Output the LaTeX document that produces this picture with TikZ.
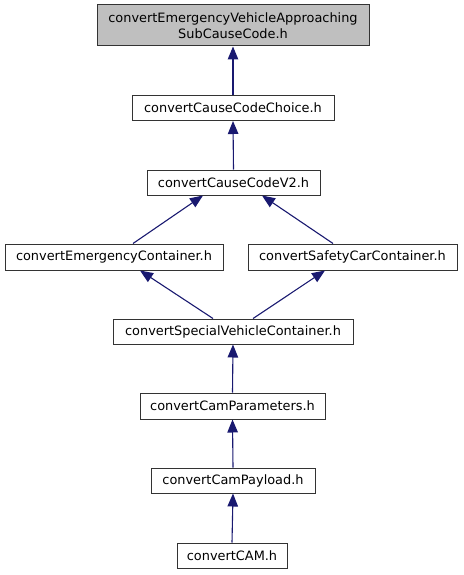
\documentclass[tikz,border=0pt]{standalone}
\usepackage{fontspec}
\setmainfont{DejaVu Sans}
\usetikzlibrary{arrows.meta}
\definecolor{edgeblue}{RGB}{25,25,112}
\definecolor{topgray}{RGB}{191,191,191}
\tikzset{
  filebox/.style={draw=black!80, line width=1pt, fill=white, inner sep=0pt, font=\fontsize{12.9}{15.5}\selectfont, align=center},
  dep/.style={draw=edgeblue, line width=1.1pt, -{Triangle[length=13pt,width=10.5pt]}, edgeblue}
}
\begin{document}
\begin{tikzpicture}[x=1pt,y=-1pt]
\useasboundingbox (0,0) rectangle (463,575);
\node[filebox, fill=topgray, minimum width=272pt, minimum height=41pt] (top) at (233,25.5) {convertEmergencyVehicleApproaching\\SubCauseCode.h};
\node[filebox, minimum width=202pt, minimum height=25pt] (choice) at (233,108) {convertCauseCodeChoice.h};
\node[filebox, minimum width=173pt, minimum height=25pt] (v2) at (233.5,182.5) {convertCauseCodeV2.h};
\node[filebox, minimum width=218pt, minimum height=26pt] (emerg) at (114,257) {convertEmergencyContainer.h};
\node[filebox, minimum width=209pt, minimum height=26pt] (safety) at (352.5,257) {convertSafetyCarContainer.h};
\node[filebox, minimum width=240pt, minimum height=25pt] (special) at (233,331.5) {convertSpecialVehicleContainer.h};
\node[filebox, minimum width=185pt, minimum height=26pt] (params) at (232.5,406) {convertCamParameters.h};
\node[filebox, minimum width=164pt, minimum height=25pt] (payload) at (233,480.5) {convertCamPayload.h};
\node[filebox, minimum width=110pt, minimum height=25pt] (cam) at (232,555.5) {convertCAM.h};
\draw[dep] (choice.north) -- (top.south);
\draw[dep] (v2.north) -- (choice.south);
\draw[dep] ([xshift=19pt]emerg.north) -- ([xshift=-30.5pt]v2.south);
\draw[dep] ([xshift=-19.5pt]safety.north) -- ([xshift=28.5pt]v2.south);
\draw[dep] ([xshift=-20pt]special.north) -- ([xshift=26pt]emerg.south);
\draw[dep] ([xshift=20pt]special.north) -- ([xshift=-27.5pt]safety.south);
\draw[dep] (params.north) -- (special.south);
\draw[dep] (payload.north) -- (params.south);
\draw[dep] (cam.north) -- (payload.south);
\end{tikzpicture}
\end{document}
